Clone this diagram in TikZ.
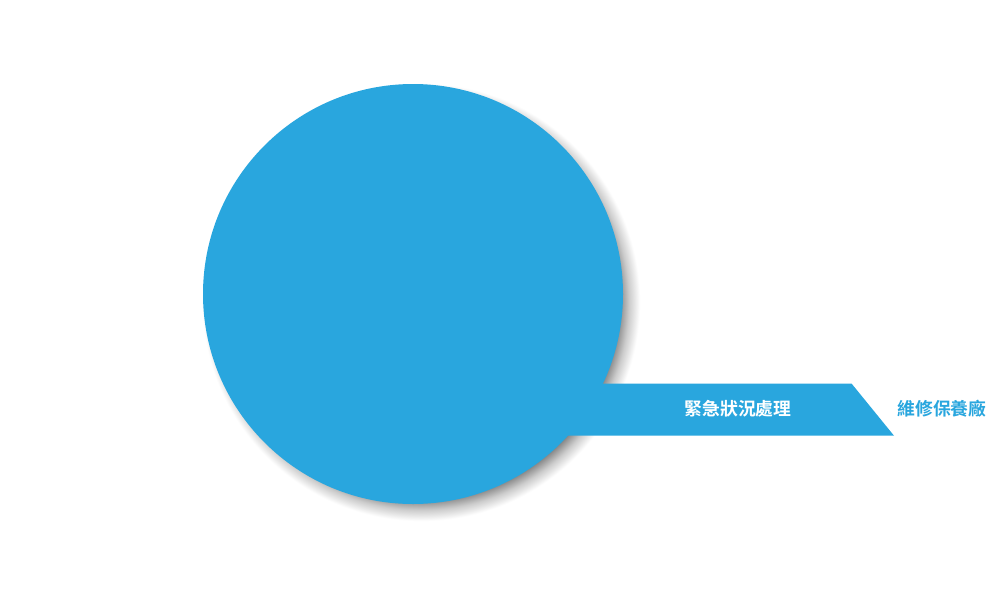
\documentclass[tikz,border=0pt]{standalone}
\usepackage{fontspec}
\newfontfamily\cjk{Noto Sans CJK TC}[BoldFont={Noto Sans CJK TC Bold}]
\definecolor{hubblue}{RGB}{41,166,222}
\pgfdeclareradialshading{hubshadow}{\pgfpoint{0bp}{0bp}}{%
  color(0bp)=(black!50); color(21.6bp)=(black!50); color(22.8bp)=(black!20);
  color(24bp)=(white); color(50bp)=(white)}
\tikzset{
  hub/.style={circle, fill=hubblue, minimum size=420pt, inner sep=0pt},
  tag/.style={font=\cjk\bfseries\fontsize{17.8}{20}\selectfont, inner sep=0pt}
}
\begin{document}
\begin{tikzpicture}[x=1pt,y=-1pt]
\useasboundingbox (0,0) rectangle (1000,600);
\fill[white] (0,0) rectangle (1000,600);
\shade[shading=hubshadow] (421,302) circle (228pt); % shadow of the hub
% banner
\fill[hubblue] (500,383.5) -- (851.5,383.5) -- (894,435.7) -- (500,435.7) -- cycle;
\node[hub] at (413,294) (hub){};
\node[tag, text=white] at (738,409) (emerg){緊急狀況處理};
\node[tag, text=hubblue] at (942,409) (garage){維修保養廠};
\end{tikzpicture}
\end{document}
